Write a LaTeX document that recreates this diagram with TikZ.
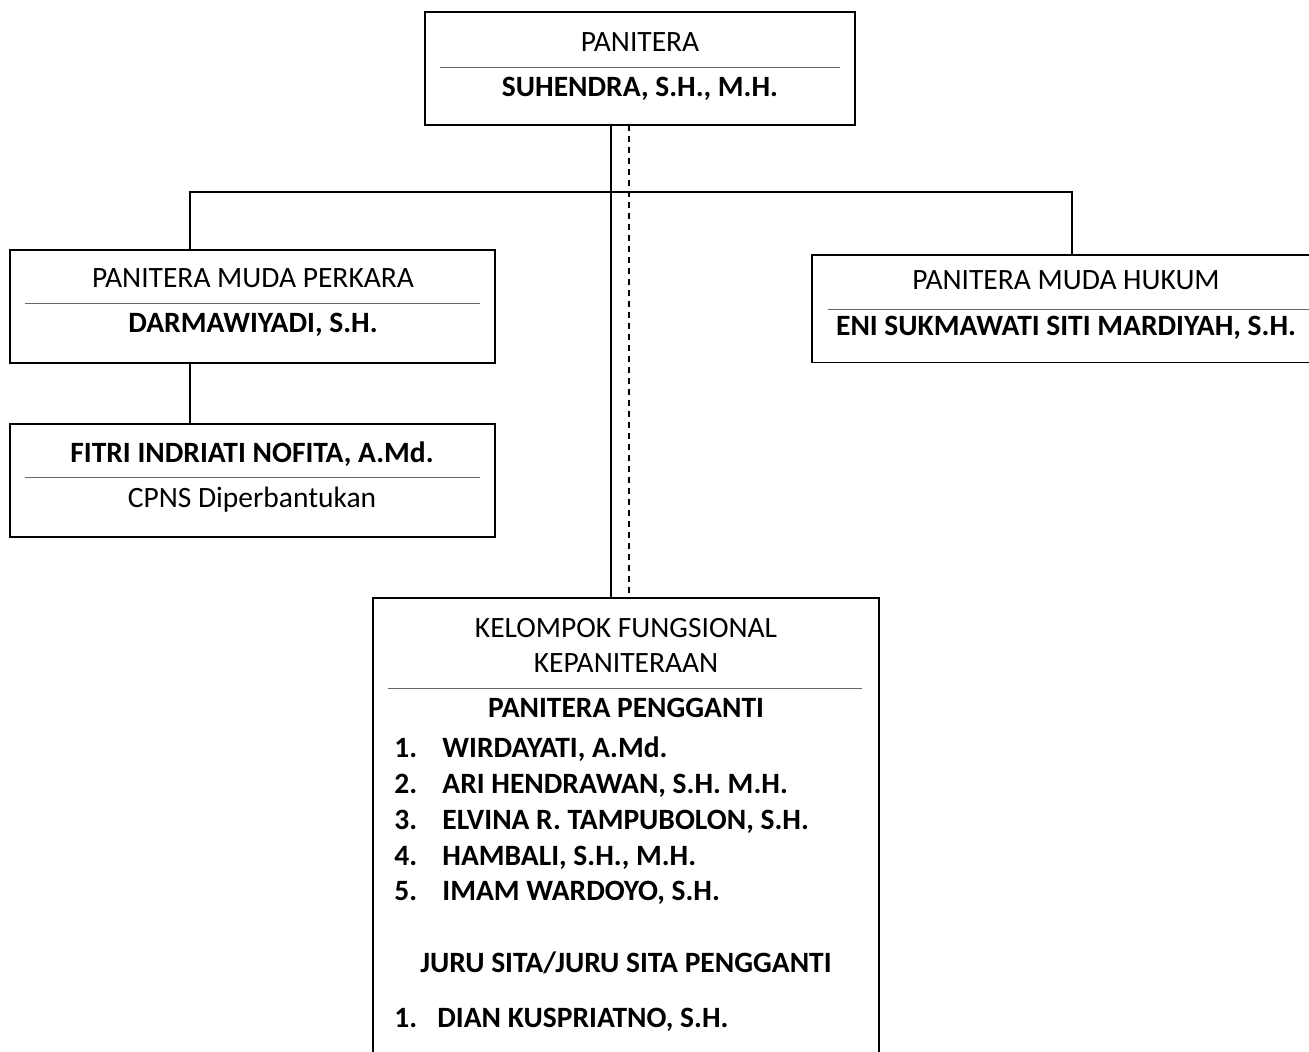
\documentclass[tikz,border=0pt]{standalone}
\usepackage{fontspec}
\setmainfont{Carlito}
\usepackage{tikz}
\tikzset{
  kotak/.style={draw=black,line width=0.75pt,inner sep=0pt,outer sep=0pt},
  teks/.style={inner sep=0pt,anchor=base,font=\fontsize{14.75pt}{18pt}\selectfont},
  tebal/.style={teks,font=\fontsize{14.75pt}{18pt}\selectfont\bfseries},
  daftar/.style={tebal,anchor=base west},
  pemisah/.style={draw=gray!80!black,line width=0.5pt},
  garis/.style={line width=0.75pt}
}

\begin{document}
\begin{tikzpicture}[x=0.5pt,y=-0.5pt]

\useasboundingbox (0,0) rectangle (1309,1052);
\clip (0,0) rectangle (1309,1052);

% kotak
\node[kotak,minimum width=215pt,minimum height=56.5pt] (atas) at (640,68.5) {};
\node[kotak,minimum width=242.5pt,minimum height=56.5pt] (perkara) at (252.5,306.5) {};
\node[kotak,minimum width=242.5pt,minimum height=56.5pt] (fitri) at (252.5,480.5) {};
\node[kotak,minimum width=254pt,minimum height=53.75pt] (hukum) at (1066,308.75) {};
\node[kotak,minimum width=253pt,minimum height=236pt] (fungsional) at (626,834) {};

% panitera
\node[teks] (panitera) at (640,52) {PANITERA};
\draw[pemisah] (440,68) -- (840,68);
\node[tebal] (suhendra) at (640,97) {SUHENDRA, S.H., M.H.};

% panitera muda perkara
\node[teks] (mudaperkara) at (253,288) {PANITERA MUDA PERKARA};
\draw[pemisah] (25,304) -- (480,304);
\node[tebal] (darmawiyadi) at (253,333) {DARMAWIYADI, S.H.};

\node[tebal] (namafitri) at (252,463) {FITRI INDRIATI NOFITA, A.Md.};
\draw[pemisah] (25,478) -- (480,478);
\node[teks] (cpns) at (252,508) {CPNS Diperbantukan};

% panitera muda hukum
\node[teks] (mudahukum) at (1066,290) {PANITERA MUDA HUKUM};
\draw[pemisah] (828,310) -- (1309,310);
\node[tebal] (eni) at (1066,336) {ENI SUKMAWATI SITI MARDIYAH, S.H.};

% kelompok fungsional
\node[teks] (kelompok) at (626,637) {KELOMPOK FUNGSIONAL};
\node[teks] (kepaniteraan) at (626,672) {KEPANITERAAN};
\draw[pemisah] (388,688) -- (862,688);
\node[tebal] (pengganti) at (626,717) {PANITERA PENGGANTI};
\foreach \n/\nama/\y in {1/{WIRDAYATI, A.Md.}/757,
                        2/{ARI HENDRAWAN, S.H. M.H.}/793,
                        3/{ELVINA R. TAMPUBOLON, S.H.}/829,
                        4/{HAMBALI, S.H., M.H.}/865,
                        5/{IMAM WARDOYO, S.H.}/900}{
  \node[daftar] (no\n) at (394,\y) {\n.};
  \node[daftar] (pp\n) at (442,\y) {\nama};
}
\node[tebal] (jurusita) at (626,972) {JURU SITA/JURU SITA PENGGANTI};
\node[daftar] (nojs) at (394,1027) {1.};
\node[daftar] (dian) at (437,1027) {DIAN KUSPRIATNO, S.H.};

% garis
\coordinate (tegak) at (611,192);
\coordinate (putus) at (629,192);
\coordinate (kiri) at (190,192);
\coordinate (kanan) at (1072,192);

\draw[garis] (atas.south -| tegak) -- (fungsional.north -| tegak);
\draw[garis,dash pattern=on 3pt off 2.5pt] (atas.south -| putus) -- (fungsional.north -| putus);
\draw[garis] (perkara.north -| kiri) -- (kiri) -- (kanan) -- (hukum.north -| kanan);
\draw[garis] (perkara.south -| kiri) -- (fitri.north -| kiri);

\end{tikzpicture}
\end{document}
